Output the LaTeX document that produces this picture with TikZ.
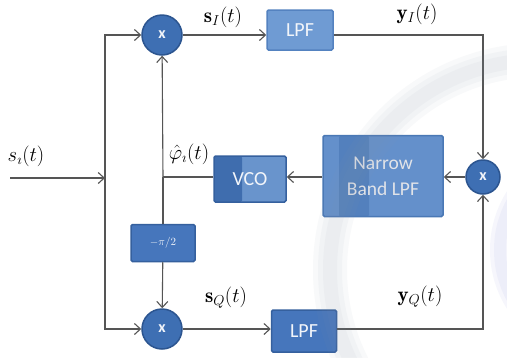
\documentclass[tikz,border=0pt]{standalone}
\usepackage{fontspec}
\setsansfont{Carlito}
\usetikzlibrary{arrows.meta,calc}
\definecolor{linec}{HTML}{555555}
\definecolor{circf}{HTML}{3E6FB3}
\definecolor{circd}{HTML}{2C5590}
\definecolor{lpfa}{HTML}{6F9BD3}
\definecolor{lpfad}{HTML}{5482C0}
\definecolor{lpfb}{HTML}{4676BC}
\definecolor{lpfbd}{HTML}{35609E}
\definecolor{vcol}{HTML}{3F6DAE}
\definecolor{vcor}{HTML}{6994CC}
\definecolor{nbf}{HTML}{6490CB}
\definecolor{nbd}{HTML}{4A78B5}
\definecolor{txtw}{HTML}{F2F5FA}
\definecolor{swirl}{HTML}{8A96A8}
\begin{document}
\begin{tikzpicture}[x=1pt,y=-1pt,
  arr/.style={draw=linec, line width=1.1pt, -{Straight Barb[length=6pt,width=11pt,line width=1.1pt]}},
  ln/.style={draw=linec, line width=1.1pt},
  mult/.style={circle, fill=circf, draw=circd, line width=1.5pt, inner sep=0pt, text=txtw, font=\sffamily\bfseries\fontsize{16}{18}\selectfont},
  blk/.style={rectangle, rounded corners=1.5pt, line width=1.5pt, inner sep=0pt, text=txtw, font=\sffamily\fontsize{20}{22}\selectfont},
  lab/.style={font=\fontsize{21}{24}\selectfont, inner sep=0pt}]
\useasboundingbox (0,0) rectangle (507,357);
\fill[white] (0,0) rectangle (507,357);

% nodes
\node[mult, minimum size=40pt] (m1) at (162,35) {x};
\node[mult, minimum size=40pt] (m2) at (162,329) {x};
\node[mult, minimum size=34pt] (m3) at (483,177) {x};
\node[blk, fill=lpfa, draw=lpfad, minimum width=66pt, minimum height=40pt] (lpf1) at (300,30) {LPF};
\node[blk, fill=lpfb, draw=lpfbd, minimum width=65pt, minimum height=42pt] (lpf2) at (304,331) {LPF};
\node[blk, fill=nbf, draw=nbd, minimum width=120pt, minimum height=81pt, align=center,
  path picture={\fill[vcol, opacity=0.45] ($(path picture bounding box.north west)+(16pt,0)$) rectangle ($(path picture bounding box.south west)+(46pt,0)$);},
  font=\sffamily\fontsize{19.5}{21}\selectfont, text=txtw!85!gray] (nb) at (383,176) {Narrow\\[5pt]Band LPF};
\node[blk, fill=vcor, draw=lpfbd, minimum width=72pt, minimum height=46pt,
  path picture={\fill[vcol] (path picture bounding box.north west) rectangle ($(path picture bounding box.south west)+(28pt,0)$);}] (vco) at (250,179) {VCO};
\node[blk, fill=lpfb, draw=lpfbd, minimum width=64pt, minimum height=37pt, font=\fontsize{11}{12}\selectfont] (mpi) at (163,243) {$-\pi/2$};

% coordinates
\coordinate (in) at (10,178);
\coordinate (sp) at (105,178);
\coordinate (ph) at (163,177);

% connectors
\draw[arr] (in) -- (sp);
\draw[arr] (sp) |- (m1);
\draw[arr] (sp) |- (m2);
\draw[arr] (m1) -- (m1 -| lpf1.west);
\draw[arr] (m1 -| lpf1.east) -| (m3);
\draw[arr] (m2) -- (m2 -| lpf2.west);
\draw[arr] (m2 -| lpf2.east) -| (m3);
\draw[arr] (m3) -- (m3 -| nb.east);
\draw[arr] (m3 -| nb.west) -- (m3 -| vco.east);
\draw[ln] (m3 -| vco.west) -- (ph);
\draw[arr] (ph) -- (m1);
\draw[ln] (ph) -- (mpi);
\draw[arr] (mpi) -- (m2);

% labels
\node[lab] (lsi) at (26,156) {$s_{\imath}(t)$};
\node[lab] (lphi) at (189,154) {$\hat{\varphi}_{\imath}(t)$};
\node[lab] (lsI) at (223,17) {$\mathbf{s}_{I}(t)$};
\node[lab] (lyI) at (417,14) {$\mathbf{y}_{I}(t)$};
\node[lab] (lsQ) at (226,298) {$\mathbf{s}_{Q}(t)$};
\node[lab] (lyQ) at (420,297) {$\mathbf{y}_{Q}(t)$};

% background swirl watermark
\begin{scope}
\clip (0,0) rectangle (507,357);
\foreach \w in {34,24,14} {
  \draw[swirl, line width=\w pt, opacity=0.055] (540,270) circle (210);
}
\foreach \w in {20,12} {
  \draw[swirl!60!blue, line width=\w pt, opacity=0.05] (600,250) circle (100);
}
\end{scope}
\end{tikzpicture}
\end{document}
